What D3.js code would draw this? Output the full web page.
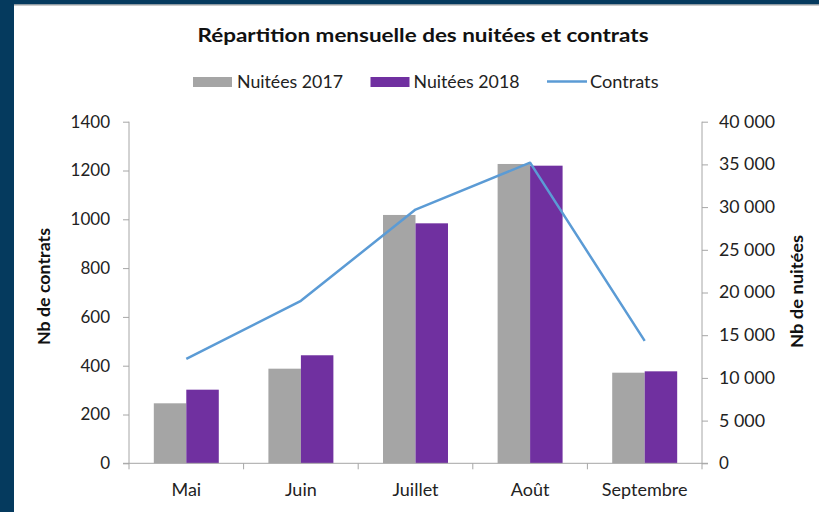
<!DOCTYPE html>
<html><head><meta charset="utf-8">
<script src="https://cdn.jsdelivr.net/npm/d3@7"></script>
<style>html,body{margin:0;padding:0;background:#fff;}svg{display:block;}</style>
</head><body>
<script>
const months = ["Mai", "Juin", "Juillet", "Août", "Septembre"];
const nuitees2017 = [7025, 11080, 29080, 35050, 10610];
const nuitees2018 = [8620, 12650, 28100, 34850, 10770];
const contrats = [428, 666, 1040, 1232, 502];
const leftTicks = [0, 200, 400, 600, 800, 1000, 1200, 1400];
const rightTicks = [0, 5000, 10000, 15000, 20000, 25000, 30000, 35000, 40000];
const seriesNames = ["Nuitées 2017", "Nuitées 2018", "Contrats"];

const W = 819, H = 512;
const font = "Lato, 'Open Sans', sans-serif";
const svg = d3.select("body").append("svg").attr("width", W).attr("height", H);

// frame
svg.append("rect").attr("x", 0).attr("y", 0).attr("width", W).attr("height", H).attr("fill", "#fff");
svg.append("rect").attr("x", 0).attr("y", 0).attr("width", W).attr("height", 4.5).attr("fill", "#053a5e");
svg.append("rect").attr("x", 0).attr("y", 0).attr("width", 14).attr("height", H).attr("fill", "#053a5e");
svg.append("line").attr("x1", 14).attr("x2", W).attr("y1", 5).attr("y2", 5).attr("stroke", "#9a9a9a").attr("stroke-width", 1);

const pLeft = 129, pRight = 702, pTop = 121.7, pBottom = 463.3;
const x = d3.scaleBand().domain(months).range([pLeft, pRight]).paddingInner(0.433).paddingOuter(0.2165);
const x1 = d3.scaleBand().domain(["a", "b"]).range([0, x.bandwidth()]);
const yL = d3.scaleLinear().domain([0, 1400]).range([pBottom, pTop]);
const yR = d3.scaleLinear().domain([0, 40000]).range([pBottom, pTop]);
const loc = d3.formatLocale({decimal: ",", thousands: "\u2009", grouping: [3], currency: ["", " €"]});
const fmtR = v => loc.format(",")(v).replace(/\u2009/g, " ");

const axisColor = "#a6a6a6";

// bars
const g = svg.append("g");
months.forEach((m, i) => {
  g.append("rect").attr("x", x(m) + x1("a")).attr("width", x1.bandwidth())
    .attr("y", yR(nuitees2017[i])).attr("height", yR(0) - yR(nuitees2017[i])).attr("fill", "#a5a5a5");
  g.append("rect").attr("x", x(m) + x1("b")).attr("width", x1.bandwidth())
    .attr("y", yR(nuitees2018[i])).attr("height", yR(0) - yR(nuitees2018[i])).attr("fill", "#7030a0");
});

// axes
const axL = svg.append("g").attr("transform", `translate(${pLeft},0)`)
  .call(d3.axisLeft(yL).tickValues(leftTicks).tickSize(6).tickPadding(13).tickFormat(d3.format("d")));
const axR = svg.append("g").attr("transform", `translate(${pRight},0)`)
  .call(d3.axisRight(yR).tickValues(rightTicks).tickSize(6).tickPadding(11).tickFormat(fmtR));
[axL, axR].forEach(a => {
  a.select(".domain").remove();
  a.selectAll(".tick line").attr("stroke", axisColor);
  a.selectAll("text").attr("font-family", font).attr("font-size", 17).attr("fill", "#222");
});
axR.selectAll("text").attr("textLength", function () {
  const t = d3.select(this).text();
  return t.length === 6 ? 56 : (t.length === 5 ? 46 : null);
}).attr("lengthAdjust", "spacingAndGlyphs");
svg.append("line").attr("x1", pLeft).attr("x2", pLeft).attr("y1", pTop).attr("y2", pBottom + 6).attr("stroke", axisColor);
svg.append("line").attr("x1", pRight).attr("x2", pRight).attr("y1", pTop).attr("y2", pBottom + 6).attr("stroke", axisColor);

// x axis
svg.append("line").attr("x1", pLeft - 6).attr("x2", pRight + 6).attr("y1", pBottom).attr("y2", pBottom).attr("stroke", axisColor);
const step = x.step();
months.forEach((m, i) => {
  const bx = x(m) - (step - x.bandwidth()) / 2;
  if (i > 0) svg.append("line").attr("x1", bx).attr("x2", bx).attr("y1", pBottom).attr("y2", pBottom + 6).attr("stroke", axisColor);
  svg.append("text").attr("x", x(m) + x.bandwidth() / 2).attr("y", 495.5)
    .attr("text-anchor", "middle").attr("font-family", font).attr("font-size", 18).attr("fill", "#222").text(m);
});

// line
const line = d3.line().x((d, i) => x(months[i]) + x.bandwidth() / 2).y(d => yL(d));
svg.append("path").datum(contrats).attr("d", line).attr("fill", "none")
  .attr("stroke", "#5b9bd5").attr("stroke-width", 2.5).attr("stroke-linejoin", "round");

// title
svg.append("text").attr("x", 423).attr("y", 42).attr("text-anchor", "middle")
  .attr("font-family", font).attr("font-weight", "bold").attr("font-size", 19).attr("fill", "#111")
  .attr("textLength", 451).attr("lengthAdjust", "spacingAndGlyphs")
  .text("Répartition mensuelle des nuitées et contrats");

// legend
const lg = svg.append("g").attr("font-family", font).attr("font-size", 16.5).attr("fill", "#222");
lg.append("rect").attr("x", 193).attr("y", 77).attr("width", 39).attr("height", 10).attr("fill", "#a5a5a5");
lg.append("text").attr("x", 237).attr("y", 88).attr("textLength", 106).attr("lengthAdjust", "spacingAndGlyphs").text(seriesNames[0]);
lg.append("rect").attr("x", 370.5).attr("y", 77).attr("width", 39).attr("height", 10).attr("fill", "#7030a0");
lg.append("text").attr("x", 413.5).attr("y", 88).attr("textLength", 106).attr("lengthAdjust", "spacingAndGlyphs").text(seriesNames[1]);
lg.append("line").attr("x1", 547).attr("x2", 587).attr("y1", 81.5).attr("y2", 81.5).attr("stroke", "#5b9bd5").attr("stroke-width", 2.5);
lg.append("text").attr("x", 590).attr("y", 88).attr("textLength", 68.5).attr("lengthAdjust", "spacingAndGlyphs").text(seriesNames[2]);

// axis titles
svg.append("text").attr("transform", "translate(50,286.5) rotate(-90)").attr("text-anchor", "middle")
  .attr("font-family", font).attr("font-weight", "bold").attr("font-size", 17).attr("fill", "#111")
  .attr("textLength", 117).attr("lengthAdjust", "spacingAndGlyphs").text("Nb  de contrats");
svg.append("text").attr("transform", "translate(802.5,291.5) rotate(-90)").attr("text-anchor", "middle")
  .attr("font-family", font).attr("font-weight", "bold").attr("font-size", 17).attr("fill", "#111")
  .attr("textLength", 113).attr("lengthAdjust", "spacingAndGlyphs").text("Nb de nuitées");
</script>
</body></html>
